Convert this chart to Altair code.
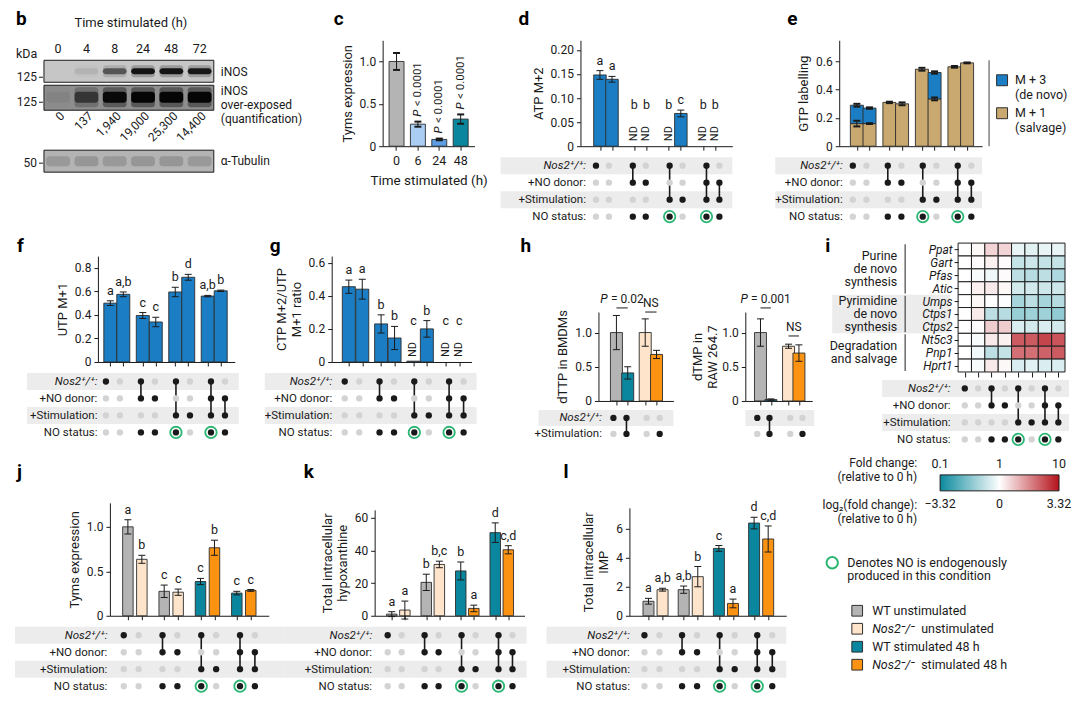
import json
import altair as alt
import pandas as pd

FONT = "Roboto"
INK = "#1a1a1a"
EDGE = "#2e2e2e"
DOT_OFF = "#d3d3d3"
STRIPE = "#ececec"
GREEN = "#2bb673"
BLUE = "#1b7dc3"
TAN = "#c9a970"
GRAY = "#b4b4b4"
PEACH = "#fde4ca"
TEAL = "#0a879e"
ORANGE = "#fb9212"
LBLUE = "#a9cdf3"
MBLUE = "#5c9de4"
HM_TEAL = "#0b8a9d"
HM_RED = "#b5121b"
CAP = "M-1,0L1,0"

# ---------------- data ----------------
LANES = ["0", "4", "8", "24", "48", "72"]
QUANT = ["0", "137", "1,940", "19,000", "25,300", "14,400"]
INOS_BAND = [0.0, 0.08, 0.55, 0.95, 0.95, 0.92]
INOS_OVER_BAND = [0.05, 0.55, 0.95, 1.0, 1.0, 1.0]
TUB_BAND = [0.45, 0.5, 0.45, 0.5, 0.5, 0.45]

C_TIME = ["0", "6", "24", "48"]
C_VAL = [1.0, 0.26, 0.08, 0.32]
C_ERR = [0.1, 0.03, 0.01, 0.055]
C_COL = [GRAY, LBLUE, MBLUE, TEAL]
C_P = ["", "< 0.0001", "< 0.0001", "< 0.0001"]

MATRIX_LABELS = ["Nos2⁺/⁺:", "+NO donor:", "+Stimulation:", "NO status:"]
NOS2 = [1, 0, 1, 0, 1, 0, 1, 0]
NO_DONOR = [0, 0, 1, 1, 0, 0, 1, 1]
STIMULATION = [0, 0, 0, 0, 1, 1, 1, 1]
NO_STATUS = [0, 0, 1, 1, 1, 0, 1, 1]
ENDOGENOUS = [0, 0, 0, 0, 1, 0, 1, 0]

D_VAL = [0.148, 0.139, 0, 0, 0, 0.068, 0, 0]
D_ERR = [0.009, 0.006, 0, 0, 0, 0.007, 0, 0]
D_ND = [0, 0, 1, 1, 1, 0, 1, 1]
D_LET = ["a", "a", "b", "b", "b", "c", "b", "b"]

E_SALVAGE = [0.16, 0.16, 0.31, 0.30, 0.545, 0.335, 0.562, 0.59]
E_SALVAGE_ERR = [0.02, 0.003, 0, 0, 0, 0.01, 0, 0]
E_TOTAL = [0.29, 0.27, 0.31, 0.30, 0.545, 0.522, 0.562, 0.59]
E_TOTAL_ERR = [0.01, 0.005, 0.005, 0.01, 0.01, 0.008, 0.006, 0.003]
E_LEGEND = [("M + 3", "(de novo)"), ("M + 1", "(salvage)")]

F_VAL = [0.50, 0.575, 0.395, 0.34, 0.595, 0.72, 0.56, 0.605]
F_ERR = [0.02, 0.02, 0.025, 0.04, 0.04, 0.025, 0.006, 0.006]
F_LET = ["a", "a,b", "c", "c", "b", "d", "a,b", "b"]

G_VAL = [0.455, 0.44, 0.23, 0.145, 0.005, 0.2, 0, 0]
G_ERR = [0.04, 0.06, 0.055, 0.07, 0, 0.05, 0, 0]
G_ND = [0, 0, 0, 0, 1, 0, 1, 1]
G_LET = ["a", "a", "b", "b", "c", "b", "c", "c"]

H_COL = [GRAY, TEAL, PEACH, ORANGE]
H_NOS2 = [1, 1, 0, 0]
H_STIM = [0, 1, 0, 1]
HL_VAL = [1.0, 0.41, 1.0, 0.68]
HL_ERR = [0.25, 0.09, 0.2, 0.06]
HL_BRACKETS = [(0, 1, 1.36, "P", "= 0.02"), (2, 3, 1.3, "", "NS")]
HR_VAL = [1.0, 0.02, 0.8, 0.7]
HR_ERR = [0.2, 0.01, 0.03, 0.12]
HR_BRACKETS = [(0, 1, 1.36, "P", "= 0.001"), (2, 3, 0.95, "", "NS")]

GENES = ["Ppat", "Gart", "Pfas", "Atic", "Umps", "Ctps1", "Ctps2", "Nt5c3", "Pnp1", "Hprt1"]
HEAT = [
    [0, 0.1, 0.6, 0.6, -0.3, -0.4, -0.3, -0.3],
    [0, 0.05, 0.2, 0.05, -0.8, -0.7, -0.8, -0.8],
    [0, -0.1, -0.2, 0.05, -0.9, -1.0, -0.9, -1.1],
    [0, 0.2, 0.3, 0.1, -0.6, -0.6, -0.7, -0.7],
    [0, 0.1, 0.0, -0.05, -1.2, -0.9, -1.2, -1.0],
    [0, 0.3, -0.9, -1.0, -1.4, -1.3, -1.3, -1.5],
    [0, 0.05, 0.7, 0.7, -0.5, -0.6, -0.5, -0.6],
    [0, -0.1, 0.3, 0.2, 2.3, 2.3, 2.6, 2.4],
    [0, -0.2, -0.9, -0.8, 2.0, 2.0, 2.2, 2.3],
    [0, -0.1, 0.3, 0.1, -0.5, -0.4, -0.5, -0.5],
]
GROUPS = ["Purine\nde novo\nsynthesis", "Pyrimidine\nde novo\nsynthesis", "Degradation\nand salvage"]
GROUP_START = [0, 4, 7]
GROUP_END = [3, 6, 9]

FC_VALUES = [-3.32, 0, 3.32]
FC_TOP = ["0.1", "1", "10"]
FC_BOTTOM = ["\u22123.32", "0", "3.32"]

J_COL = [GRAY, PEACH, GRAY, PEACH, TEAL, ORANGE, TEAL, ORANGE]
J_VAL = [1.0, 0.635, 0.275, 0.265, 0.385, 0.765, 0.255, 0.285]
J_ERR = [0.08, 0.045, 0.07, 0.035, 0.035, 0.085, 0.02, 0.01]
J_LET = ["a", "b", "c", "c", "c", "b", "c", "c"]
K_VAL = [1.0, 3.5, 20.5, 31.5, 27.5, 4.5, 51, 40.5]
K_ERR = [1.5, 5.5, 5, 2, 5.5, 2, 6, 2.5]
K_LET = ["a", "a", "b", "b,c", "b", "a", "d", "c,d"]
L_VAL = [1.0, 1.8, 1.8, 2.7, 4.65, 0.85, 6.4, 5.3]
L_ERR = [0.2, 0.1, 0.25, 0.7, 0.2, 0.3, 0.4, 0.9]
L_LET = ["a", "a,b", "a,b", "b", "c", "a", "d", "c,d"]

LEGEND_GENOTYPE = ["WT", "Nos2⁻/⁻", "WT", "Nos2⁻/⁻"]
LEGEND_CONDITION = ["unstimulated", "unstimulated", "stimulated 48 h", "stimulated 48 h"]
LEGEND_COLORS = [GRAY, PEACH, TEAL, ORANGE]

ONE = pd.DataFrame({"k": [0]})
ZERO_FILL = [0] * 8
one = alt.Chart(ONE)


def grouped(step, n_groups=4):
    return [g * step + m for g in range(n_groups) for m in (0, 1)]


def js(items):
    return json.dumps(items, ensure_ascii=False)


def indep(c):
    return c.resolve_scale(color="independent", opacity="independent")


def vc(*charts, spacing=5):
    return indep(alt.vconcat(*charts, spacing=spacing))


def hc(*charts, spacing=5):
    return indep(alt.hconcat(*charts, spacing=spacing))


def flow(*charts, columns, spacing=0):
    return indep(alt.concat(*charts, columns=columns, spacing=spacing)).properties(align="none")


def spacer():
    return alt.Chart(ONE).mark_rect(opacity=0).encode(
        x=alt.value(0), x2=alt.value(1), y=alt.value(0), y2=alt.value(1)).properties(width=1, height=1)


def hline(L, R, y):
    """invisible guide that fixes the extent of a panel"""
    return one.mark_rule(opacity=0, color="#ffffff").encode(x=alt.value(L), x2=alt.value(R), y=alt.value(y))


def letter(ch, x, y):
    return one.mark_text(text=ch, fontSize=19, fontWeight="bold", align="left", baseline="top",
                         color="#000000").encode(x=alt.value(x), y=alt.value(y))


def text_width(s, size=12):
    w = {"P": 7.6, "=": 6.6, ".": 3.2, " ": 3.0, "N": 8.6, "S": 7.6}
    return sum(w.get(ch, 6.74) for ch in s) * size / 12


def yaxis(ticks, fmt, title, title_pad=5):
    return alt.Axis(values=ticks, labelExpr=f"datum.value == 0 ? '0' : format(datum.value, '{fmt}')",
                    title=title, tickSize=4, grid=False, titlePadding=title_pad, labelPadding=3)


def bar_chart(pos, vals, errs, colors, letters, nd, xdom, ydom, ticks, fmt, ytitle,
              width, height, size, brackets=None, extra=(), title_pad=5, ytop=0):
    df = pd.DataFrame({"pos": pos, "val": vals, "err": errs, "color": colors,
                       "letter": letters, "nd": nd})
    df["lo"] = df["val"] - df["err"]
    df["hi"] = df["val"] + df["err"]
    df["zero"] = 0.0

    def XX(f):
        return alt.X(f"{f}:Q", scale=alt.Scale(domain=xdom, nice=False, zero=False),
                     axis=alt.Axis(values=pos, labels=False, ticks=True, tickSize=4, title=None, grid=False))
    X = XX("pos")

    def Y(f):
        return alt.Y(f"{f}:Q", scale=alt.Scale(domain=ydom, nice=False, zero=True, range=[height, ytop]),
                     axis=yaxis(ticks, fmt, ytitle, title_pad))

    base = alt.Chart(df)
    errd = base.transform_filter("datum.err > 0")
    layers = [
        base.transform_filter("datum.val > 0").mark_bar(size=size, stroke=EDGE, strokeWidth=0.9)
        .encode(x=X, y=Y("val"), y2="zero:Q", color=alt.Color("color:N", scale=None)),
        errd.mark_rule(color=INK, strokeWidth=1).encode(x=X, y=Y("lo"), y2="hi:Q"),
        errd.mark_point(shape=CAP, size=49, filled=False, stroke=INK, strokeWidth=1, opacity=1)
        .encode(x=X, y=Y("lo")),
        errd.mark_point(shape=CAP, size=49, filled=False, stroke=INK, strokeWidth=1, opacity=1)
        .encode(x=X, y=Y("hi")),
        base.transform_filter("datum.nd == 0 && datum.letter != ''").mark_text(baseline="bottom", dy=-3, fontSize=12.5)
        .encode(x=X, y=Y("hi"), text="letter:N"),
        base.transform_filter("datum.nd == 1").mark_text(baseline="bottom", dy=-34, fontSize=12.5)
        .encode(x=X, y=Y("zero"), text="letter:N"),
        base.transform_filter("datum.nd == 1").mark_text(angle=270, align="left", baseline="middle", dx=5, fontSize=11)
        .encode(x=X, y=Y("zero"), text=alt.value("ND")),
    ]
    if brackets:
        for a, b, yb, ptxt, rest in brackets:
            bdf = pd.DataFrame([{"x1": pos[a], "x2": pos[b], "xm": (pos[a] + pos[b]) / 2, "yb": yb,
                                 "p": ptxt, "rest": rest}])
            bb = alt.Chart(bdf)
            layers.append(bb.mark_rule(color=INK, strokeWidth=1).encode(x=XX("x1"), x2="x2:Q", y=Y("yb")))
            if ptxt:
                total = text_width(ptxt) + 3.0 + text_width(rest)
                layers.append(bb.mark_text(baseline="bottom", align="left", dy=-2, dx=-total / 2, fontSize=12,
                                           fontStyle="italic").encode(x=XX("xm"), y=Y("yb"), text="p:N"))
                layers.append(bb.mark_text(baseline="bottom", align="left", dy=-2,
                                           dx=-total / 2 + text_width(ptxt) + 3.0, fontSize=12)
                              .encode(x=XX("xm"), y=Y("yb"), text="rest:N"))
            else:
                layers.append(bb.mark_text(baseline="bottom", dy=-2, fontSize=12).encode(
                    x=XX("xm"), y=Y("yb"), text="rest:N"))
    layers.extend(extra)
    return alt.layer(*layers).properties(width=width, height=height)


def matrix(pos, xdom, width, rows, labels, endo=None, rowh=17, stripe_left=-70, stripe_extra=2,
           label_pad=0, show_labels=True, extra=()):
    n = len(labels)
    dots = [{"pos": p, "row": r, "on": v} for r, vals in enumerate(rows) for p, v in zip(pos, vals)]
    cond_rows = rows[:-1] if labels[-1].startswith("NO status") else rows
    conn = []
    for j, p in enumerate(pos):
        on_rows = [r for r, vals in enumerate(cond_rows) if vals[j]]
        if len(on_rows) >= 2:
            conn.append({"pos": p, "row": min(on_rows), "row2": max(on_rows)})
    stripes = [{"row": r - 0.5, "row2": r + 0.5} for r in range(0, n, 2)]
    X = alt.X("pos:Q", scale=alt.Scale(domain=xdom, nice=False, zero=False), axis=None)
    if show_labels:
        ax = alt.Axis(values=list(range(n)), labelExpr=f"{js(labels)}[datum.value]", ticks=False,
                      domain=False, grid=False, labelPadding=label_pad, labelFontSize=11.5, zindex=1,
                      title=None, labelColor=INK,
                      labelFontStyle={"condition": {"test": "datum.value == 0", "value": "italic"},
                                      "value": "normal"})
    else:
        ax = None
    Y = alt.Y("row:Q", scale=alt.Scale(domain=[-0.5, n - 0.5], reverse=True, nice=False, zero=False), axis=ax)
    layers = [
        alt.Chart(pd.DataFrame(stripes)).mark_rect(color=STRIPE).encode(
            x=alt.value(stripe_left), x2=alt.value(width + stripe_extra), y=Y, y2="row2:Q"),
    ]
    if conn:
        layers.append(alt.Chart(pd.DataFrame(conn)).mark_rule(color=INK, strokeWidth=1.6).encode(
            x=X, y=Y, y2="row2:Q"))
    layers.append(alt.Chart(pd.DataFrame(dots)).mark_circle(size=40, opacity=1).encode(
        x=X, y=Y, color=alt.Color("on:N", scale=alt.Scale(domain=[0, 1], range=[DOT_OFF, INK]), legend=None)))
    if endo:
        rings = [{"pos": p, "row": n - 1} for p, e in zip(pos, endo) if e]
        layers.append(alt.Chart(pd.DataFrame(rings)).mark_point(shape="circle", size=130, filled=False,
                                                                  stroke=GREEN, strokeWidth=1.8, opacity=1)
                      .encode(x=X, y=Y))
    layers.extend(extra)
    return alt.layer(*layers).properties(width=width, height=rowh * n)


MROWS = [NOS2, NO_DONOR, STIMULATION, NO_STATUS]

# ================= ROW 1 (plot tops at y=40) =================
lane_df = pd.DataFrame({"lane": LANES, "quant": QUANT, "inos": INOS_BAND, "over": INOS_OVER_BAND,
                        "tub": TUB_BAND})
WB = 170
XL = alt.X("lane:N", sort=LANES, scale=alt.Scale(paddingInner=0.16, paddingOuter=0.08),
           axis=alt.Axis(orient="top", offset=-20, labelAngle=0, ticks=False, domain=False, labelPadding=5,
                         title=None, labelFontSize=12.5))
bl = alt.Chart(lane_df).transform_calculate(inos_h="datum.inos * 0.35", over_h="datum.over * 0.5")


def band_layer(field, color, yc, h):
    return bl.mark_rect(color=color, cornerRadius=3).encode(
        x=XL, y=alt.value(yc - h / 2), y2=alt.value(yc + h / 2),
        opacity=alt.Opacity(f"{field}:Q", scale=None, legend=None))


b_layers = [
    hline(-35, 262, -32),
    letter("b", -28, -30),
    one.mark_rect(fill="#c6c6c6", stroke=INK, strokeWidth=1).encode(x=alt.value(0), x2=alt.value(WB), y=alt.value(20), y2=alt.value(42)),
    one.mark_rect(fill="#8e8e8e", stroke=INK, strokeWidth=1).encode(x=alt.value(0), x2=alt.value(WB), y=alt.value(45), y2=alt.value(70)),
    one.mark_rect(fill="#b3b3b3", stroke=INK, strokeWidth=1).encode(x=alt.value(0), x2=alt.value(WB), y=alt.value(110), y2=alt.value(132)),
    band_layer("inos_h", "#444444", 31, 12),
    band_layer("inos", "#0d0d0d", 31, 6),
    band_layer("over_h", "#222222", 57, 20),
    band_layer("over", "#050505", 57, 11),
    band_layer("tub", "#7a7a7a", 121, 10),
    bl.mark_text(angle=315, align="right", baseline="middle", dx=6, fontSize=12).encode(
        x=XL, y=alt.value(78), text="quant:N"),
    one.mark_text(align="center", baseline="middle", fontSize=13).encode(x=alt.value(87), y=alt.value(-17), text=alt.value("Time stimulated (h)")),
    one.mark_text(align="left", baseline="bottom", fontSize=12.5).encode(x=alt.value(-28), y=alt.value(21), text=alt.value("kDa")),
    one.mark_text(align="right", baseline="middle", fontSize=12).encode(x=alt.value(-7), y=alt.value(37), text=alt.value("125")),
    one.mark_text(align="right", baseline="middle", fontSize=12).encode(x=alt.value(-7), y=alt.value(62), text=alt.value("125")),
    one.mark_text(align="right", baseline="middle", fontSize=12).encode(x=alt.value(-7), y=alt.value(123), text=alt.value("50")),
    one.mark_text(align="left", baseline="middle", fontSize=12).encode(x=alt.value(177), y=alt.value(32), text=alt.value("iNOS")),
    one.mark_text(align="left", baseline="top", fontSize=12, lineBreak="\n", lineHeight=14).encode(
        x=alt.value(177), y=alt.value(46), text=alt.value("iNOS\nover-exposed\n(quantification)")),
    one.mark_text(align="left", baseline="middle", fontSize=12).encode(x=alt.value(177), y=alt.value(121), text=alt.value("α-Tubulin")),
]
for yy in (37, 62, 123):
    b_layers.append(one.mark_rule(color=INK, strokeWidth=1).encode(x=alt.value(-5), x2=alt.value(-1), y=alt.value(yy)))
panel_b = alt.layer(*b_layers).properties(width=WB, height=132)

c_df = pd.DataFrame({"time": C_TIME, "val": C_VAL, "err": C_ERR, "color": C_COL, "p": C_P})
c_df["lo"] = c_df["val"] - c_df["err"]
c_df["hi"] = c_df["val"] + c_df["err"]
XC = alt.X("time:N", sort=C_TIME, scale=alt.Scale(paddingInner=0.3, paddingOuter=0.3),
           axis=alt.Axis(labelAngle=0, title="Time stimulated (h)", tickSize=4, labelPadding=4, titlePadding=7,
                         labelFontSize=12.5, titleFontSize=13.5))


def YC(f):
    return alt.Y(f"{f}:Q", scale=alt.Scale(domain=[0, 1.25], nice=False),
                 axis=yaxis([0, 0.5, 1.0], ".1f", "Tyms expression"))


cb = alt.Chart(c_df)
cbp = cb.transform_filter("datum.p != ''")
panel_c = alt.layer(
    cb.mark_bar(stroke=EDGE, strokeWidth=0.9).encode(x=XC, y=YC("val"), color=alt.Color("color:N", scale=None)),
    cb.mark_rule(color=INK).encode(x=XC, y=YC("lo"), y2="hi:Q"),
    cb.mark_point(shape=CAP, size=49, filled=False, stroke=INK, opacity=1).encode(x=XC, y=YC("lo")),
    cb.mark_point(shape=CAP, size=49, filled=False, stroke=INK, opacity=1).encode(x=XC, y=YC("hi")),
    cbp.mark_text(angle=270, align="left", baseline="middle", dx=5, fontSize=11.5, fontStyle="italic").encode(
        x=XC, y=YC("hi"), text=alt.value("P")),
    cbp.mark_text(angle=270, align="left", baseline="middle", dx=15.5, fontSize=11.5).encode(
        x=XC, y=YC("hi"), text="p:N"),
    hline(-77, 113, -32),
    letter("c", -49, -30),
).properties(width=92, height=106)

D_POS = grouped(2.85)
D_DOM = [-1.2, 10.55]
bars_d = bar_chart(D_POS, D_VAL, D_ERR, [BLUE] * 8, D_LET, D_ND, D_DOM, [0, 0.22],
                   [0, 0.05, 0.1, 0.15, 0.2], ".2f", "ATP M+2", 152, 106, 12.5,
                   extra=[hline(-85, 170, -32), letter("d", -62, -30)])
mat_d = matrix(D_POS, D_DOM, 152, MROWS, MATRIX_LABELS, ENDOGENOUS, stripe_left=-80, stripe_extra=0, label_pad=-5)
panel_d = vc(bars_d, mat_d, spacing=5)

E_POS = grouped(2.57)
E_DOM = [-1.0, 9.5]
e_df = pd.DataFrame({"pos": E_POS, "salv": E_SALVAGE, "serr": E_SALVAGE_ERR, "tot": E_TOTAL, "terr": E_TOTAL_ERR})
e_df["zero"] = 0.0
XE = alt.X("pos:Q", scale=alt.Scale(domain=E_DOM, nice=False, zero=False),
           axis=alt.Axis(values=E_POS, labels=False, ticks=True, tickSize=4, title=None, grid=False))


def YE(f):
    return alt.Y(f"{f}:Q", scale=alt.Scale(domain=[0, 0.75], nice=False),
                 axis=yaxis([0, 0.2, 0.4, 0.6], ".1f", "GTP labelling"))


eb = alt.Chart(e_df).transform_calculate(tlo="datum.tot - datum.terr", thi="datum.tot + datum.terr",
                                         slo="datum.salv - datum.serr", shi="datum.salv + datum.serr")
e_layers = [
    eb.mark_bar(size=13, stroke=EDGE, strokeWidth=0.9, color=TAN).encode(x=XE, y=YE("salv"), y2="zero:Q"),
    eb.transform_filter("datum.tot > datum.salv").mark_bar(size=13, stroke=EDGE, strokeWidth=0.9, color=BLUE)
    .encode(x=XE, y=YE("salv"), y2="tot:Q"),
    eb.mark_rule(color=INK).encode(x=XE, y=YE("tlo"), y2="thi:Q"),
    eb.mark_point(shape=CAP, size=49, filled=False, stroke=INK, opacity=1).encode(x=XE, y=YE("tlo")),
    eb.mark_point(shape=CAP, size=49, filled=False, stroke=INK, opacity=1).encode(x=XE, y=YE("thi")),
    eb.transform_filter("datum.serr > 0").mark_rule(color=INK).encode(x=XE, y=YE("slo"), y2="shi:Q"),
    eb.transform_filter("datum.serr > 0").mark_point(shape=CAP, size=49, filled=False, stroke=INK, opacity=1).encode(x=XE, y=YE("slo")),
    eb.transform_filter("datum.serr > 0").mark_point(shape=CAP, size=49, filled=False, stroke=INK, opacity=1).encode(x=XE, y=YE("shi")),
    hline(-89, 143, -32),
    letter("e", -52, -30),
]
bars_e = alt.layer(*e_layers).properties(width=143, height=106)
el_df = pd.DataFrame({"i": [0, 1], "l1": [a for a, b in E_LEGEND], "l2": [b for a, b in E_LEGEND], "color": [BLUE, TAN]})
YEL = alt.Y("i:O", scale=alt.Scale(type="point", range=[40, 73], padding=0), axis=None)
elc = alt.Chart(el_df)
legend_e = alt.layer(
    one.mark_rule(color="#444444", strokeWidth=1).encode(x=alt.value(0), y=alt.value(20), y2=alt.value(106)),
    elc.mark_square(size=120, stroke=EDGE, strokeWidth=1, opacity=1).encode(x=alt.value(13), y=YEL, color=alt.Color("color:N", scale=None)),
    elc.mark_text(align="left", baseline="middle", fontSize=12.5).encode(x=alt.value(26), y=YEL, text="l1:N"),
    elc.mark_text(align="left", baseline="middle", fontSize=12.5, dy=15).encode(x=alt.value(26), y=YEL, text="l2:N"),
).properties(width=78, height=106)
mat_e = matrix(E_POS, E_DOM, 143, MROWS, MATRIX_LABELS, ENDOGENOUS, stripe_left=-64, stripe_extra=0, label_pad=-3)
panel_e = hc(vc(bars_e, mat_e, spacing=5), legend_e, spacing=6)

row1 = flow(spacer(), panel_b, panel_c, panel_d, panel_e, columns=5)

# ================= ROW 2 (origins at y=244) =================
F_POS = grouped(2.5)
F_DOM = [-0.57, 9.2]
bars_f = bar_chart(F_POS, F_VAL, F_ERR, [BLUE] * 8, F_LET, ZERO_FILL, F_DOM, [0, 0.9],
                   [0, 0.2, 0.4, 0.6, 0.8], ".1f", "UTP M+1", 137, 119, 13, ytop=13,
                   extra=[hline(-88, 154, -6), letter("f", -81, -6)])
mat_f = matrix(F_POS, F_DOM, 137, MROWS, MATRIX_LABELS, ENDOGENOUS, stripe_left=-71, stripe_extra=4, label_pad=1)
panel_f = vc(bars_f, mat_f, spacing=5)

G_POS = grouped(2.4)
G_DOM = [-0.9, 8.75]
bars_g = bar_chart(G_POS, G_VAL, G_ERR, [BLUE] * 8, G_LET, G_ND, G_DOM, [0, 0.64],
                   [0, 0.2, 0.4, 0.6], ".1f", ["CTP M+2/UTP", "M+1 ratio"], 140, 119, 13, ytop=13,
                   extra=[hline(-80, 170, -6), letter("g", -62, -6)])
mat_g = matrix(G_POS, G_DOM, 140, MROWS, MATRIX_LABELS, ENDOGENOUS, stripe_left=-67, stripe_extra=5, label_pad=0)
panel_g = vc(bars_g, mat_g, spacing=5)

HL_POS = [0, 1, 2.55, 3.55]
HL_DOM = [-1.15, 4.6]
HR_POS = [0, 1, 2.7, 3.7]
HR_DOM = [-0.98, 4.5]
bars_hl = bar_chart(HL_POS, HL_VAL, HL_ERR, H_COL, [""] * 4, [0] * 4, HL_DOM, [0, 1.3], [0, 0.5, 1.0], ".1f",
                    "dTTP in BMDMs", 75, 158, 12, brackets=HL_BRACKETS, ytop=69,
                    extra=[hline(-97, 93, -6), letter("h", -78, -6)])
bars_hr = bar_chart(HR_POS, HR_VAL, HR_ERR, H_COL, [""] * 4, [0] * 4, HR_DOM, [0, 1.3], [0, 0.5, 1.0], ".1f",
                    ["dTMP in", "RAW 264.7"], 67, 158, 12, brackets=HR_BRACKETS, title_pad=2, ytop=69,
                    extra=[hline(-53, 75, -6)])
mat_hl = matrix(HL_POS, HL_DOM, 75, [H_NOS2, H_STIM], ["Nos2⁺/⁺:", "+Stimulation:"], rowh=16,
                stripe_left=-60, stripe_extra=0, label_pad=-3)
mat_hr = matrix(HR_POS, HR_DOM, 67, [H_NOS2, H_STIM], ["Nos2⁺/⁺:", "+Stimulation:"], rowh=16,
                stripe_left=0, stripe_extra=2, show_labels=False)
panel_h = hc(vc(bars_hl, mat_hl, spacing=3), vc(bars_hr, mat_hr, spacing=3), spacing=0)

row2 = flow(spacer(), panel_f, panel_g, panel_h, columns=4)

# ================= ROW 3 (origins at y=502) =================
J_POS = grouped(2.6)
J_DOM = [-0.93, 9.73]
bars_j = bar_chart(J_POS, J_VAL, J_ERR, J_COL, J_LET, ZERO_FILL, J_DOM, [0, 1.27], [0, 0.5, 1.0], ".1f",
                   "Tyms expression", 159, 113, 10.5,
                   extra=[hline(-100, 175, -40), letter("j", -93, -40)])
mat_j = matrix(J_POS, J_DOM, 159, MROWS, MATRIX_LABELS, ENDOGENOUS, stripe_left=-95, stripe_extra=16, label_pad=3)
panel_j = vc(bars_j, mat_j, spacing=5)

K_POS = grouped(2.64)
K_DOM = [-0.93, 9.78]
bars_k = bar_chart(K_POS, K_VAL, K_ERR, J_COL, K_LET, ZERO_FILL, K_DOM, [0, 65], [0, 20, 40, 60], "d",
                   ["Total intracellular", "hypoxanthine"], 150, 113, 10.5, ytop=7,
                   extra=[hline(-90, 167, -40), letter("k", -71, -40)])
mat_k = matrix(K_POS, K_DOM, 150, MROWS, MATRIX_LABELS, ENDOGENOUS, stripe_left=-90, stripe_extra=2, label_pad=3)
panel_k = vc(bars_k, mat_k, spacing=5)

L_POS = grouped(2.5)
L_DOM = [-1.0, 9.43]
bars_l = bar_chart(L_POS, L_VAL, L_ERR, J_COL, L_LET, ZERO_FILL, L_DOM, [0, 7.45], [0, 2, 4, 6], "d",
                   ["Total intracellular", "IMP"], 157, 113, 11, ytop=5,
                   extra=[hline(-88, 190, -40), letter("l", -66, -40)])
mat_l = matrix(L_POS, L_DOM, 157, MROWS, MATRIX_LABELS, ENDOGENOUS, stripe_left=-83, stripe_extra=0, label_pad=0)
panel_l = vc(bars_l, mat_l, spacing=5)

row3 = flow(spacer(), panel_j, panel_k, panel_l, columns=4)

# ================= right column: panel i + legends =================
hm = [{"col": c, "row": r, "v": HEAT[r][c]} for r in range(len(GENES)) for c in range(8)]
HM_SCALE = alt.Scale(domain=[-3.32, 0, 3.32], range=[HM_TEAL, "#ffffff", HM_RED], interpolate="rgb")
XH = alt.X("c0:Q", scale=alt.Scale(domain=[-0.5, 7.5], nice=False, zero=False),
           axis=alt.Axis(values=list(range(8)), labels=False, ticks=True, tickSize=5, domain=False, title=None))
YH_AX = alt.Axis(values=list(range(len(GENES))), labelExpr=f"{js(GENES)}[datum.value]", labelFontStyle="italic",
                 tickSize=4, domain=False, zindex=1, title=None, labelPadding=2, labelFontSize=12)


def YH(f):
    return alt.Y(f"{f}:Q", scale=alt.Scale(domain=[-0.5, 9.5], reverse=True, nice=False, zero=False), axis=YH_AX)


grp = pd.DataFrame({"name": GROUPS, "s": GROUP_START, "e": GROUP_END,
                    "nl": [g.count("\n") + 1 for g in GROUPS]})
grp_c = alt.Chart(grp).transform_calculate(first="(datum.s + datum.e) / 2 - (datum.nl - 1) / 2",
                                           r0="datum.s - 0.42", r1="datum.e + 0.42")
heat = alt.layer(
    alt.Chart(grp).transform_filter("datum.s == 4").transform_calculate(r0="datum.s - 0.5", r1="datum.e + 0.5")
    .mark_rect(color=STRIPE).encode(x=alt.value(-126), x2=alt.value(-8), y=YH("r0"), y2="r1:Q"),
    alt.Chart(pd.DataFrame(hm)).transform_calculate(c0="datum.col - 0.5", c1="datum.col + 0.5",
                                                    r0="datum.row - 0.5", r1="datum.row + 0.5")
    .mark_rect(stroke="#1f1f1f", strokeWidth=1).encode(
        x=XH, x2="c1:Q", y=YH("r0"), y2="r1:Q", color=alt.Color("v:Q", scale=HM_SCALE, legend=None)),
    grp_c.mark_rule(color="#444444", strokeWidth=1.2).encode(x=alt.value(-53), y=YH("r0"), y2="r1:Q"),
    grp_c.mark_text(align="right", baseline="middle", lineBreak="\n", fontSize=12.5, lineHeight=12.9).encode(
        x=alt.value(-61), y=YH("first"), text="name:N"),
    hline(-137, 110, -6),
    letter("i", -133, -6),
).properties(width=107, height=129)
I_POS = list(range(8))
mat_i = matrix(I_POS, [-0.5, 7.5], 107, MROWS, MATRIX_LABELS, ENDOGENOUS, stripe_left=-76, stripe_extra=4,
               label_pad=8, extra=[hline(-76, 107, 76)])
panel_i = vc(heat, mat_i, spacing=2)

fc_df = pd.DataFrame({"v": FC_VALUES, "top": FC_TOP, "bottom": FC_BOTTOM})
XF = alt.X("v:Q", scale=alt.Scale(domain=[-3.32, 3.32], nice=False, zero=False), axis=None)
fcc = alt.Chart(fc_df)
fmid = fcc.transform_filter("datum.v == 0")
cbar = alt.layer(
    fcc.mark_point(opacity=0).encode(x=XF, color=alt.Color("v:Q", scale=HM_SCALE, legend=alt.Legend(
        orient="none", legendX=0, legendY=0, direction="horizontal", gradientLength=119, gradientThickness=16,
        labelOpacity=0, labelExpr="''", title=None, gradientStrokeColor=INK, gradientStrokeWidth=1, padding=0, offset=0))),
    fmid.mark_rule(color=INK, strokeWidth=1.5).encode(x=XF, y=alt.value(0), y2=alt.value(4)),
    fmid.mark_rule(color=INK, strokeWidth=1.5).encode(x=XF, y=alt.value(12), y2=alt.value(16)),
    fcc.mark_text(baseline="bottom", fontSize=12.5).encode(x=XF, y=alt.value(-4), text="top:N"),
    fcc.mark_text(baseline="top", fontSize=12.5).encode(x=XF, y=alt.value(23), text="bottom:N"),
    one.mark_text(align="right", baseline="middle", lineBreak="\n", fontSize=12, lineHeight=14).encode(
        x=alt.value(-23), y=alt.value(-12), text=alt.value("Fold change:\n(relative to 0 h)")),
    one.mark_text(align="right", baseline="middle", lineBreak="\n", fontSize=12, lineHeight=14).encode(
        x=alt.value(-23), y=alt.value(30), text=alt.value("log₂(fold change):\n(relative to 0 h)")),
    hline(-119, 125, -19),
    hline(-119, 125, 78),
).properties(width=119, height=16)

lg_df = pd.DataFrame({"i": list(range(4)), "geno": LEGEND_GENOTYPE, "cond": LEGEND_CONDITION,
                      "color": LEGEND_COLORS})
YLG = alt.Y("i:O", scale=alt.Scale(type="point", range=[48, 102], padding=0), axis=None)
lgc = alt.Chart(lg_df)
legend_main = alt.layer(
    hline(-11, 200, -7),
    one.mark_point(shape="circle", size=130, filled=False, stroke=GREEN, strokeWidth=2, opacity=1).encode(
        x=alt.value(0), y=alt.value(0)),
    one.mark_text(align="left", baseline="middle", lineBreak="\n", fontSize=12.5, lineHeight=13.5).encode(
        x=alt.value(15), y=alt.value(0), text=alt.value("Denotes NO is endogenously\nproduced in this condition")),
    lgc.mark_square(size=115, stroke=EDGE, strokeWidth=1, opacity=1).encode(x=alt.value(25), y=YLG,
                                                                          color=alt.Color("color:N", scale=None)),
    lgc.transform_filter("datum.geno == 'WT'").mark_text(align="left", baseline="middle", fontSize=12.5)
    .encode(x=alt.value(40), y=YLG, text=alt.Text("full:N")).transform_calculate(full="datum.geno + ' ' + datum.cond"),
    lgc.transform_filter("datum.geno != 'WT'").mark_text(align="left", baseline="middle", fontSize=12.5,
                                                         fontStyle="italic").encode(x=alt.value(40), y=YLG, text="geno:N"),
    lgc.transform_filter("datum.geno != 'WT'").mark_text(align="left", baseline="middle", fontSize=12.5)
    .encode(x=alt.value(89), y=YLG, text="cond:N"),
).properties(width=170, height=102)

right_col = flow(hc(spacer(), panel_i, spacing=0), hc(spacer(), cbar, spacing=0),
                 hc(spacer(), legend_main, spacing=0), columns=1)

left_block = flow(row2, row3, columns=1, spacing=21)
lower = flow(spacer(), left_block, right_col, columns=3)

chart = flow(row1, lower, columns=1, spacing=11).properties(padding=0).configure(font=FONT).configure_view(
    stroke=None).configure_axis(
    labelFont=FONT, titleFont=FONT, labelFontSize=12, titleFontSize=13, labelColor=INK, titleColor=INK,
    domainColor=INK, tickColor=INK, titleFontWeight="normal", grid=False).configure_text(
    font=FONT, color=INK)

chart.save("out.html", embed_options={"renderer": "svg", "actions": False})
